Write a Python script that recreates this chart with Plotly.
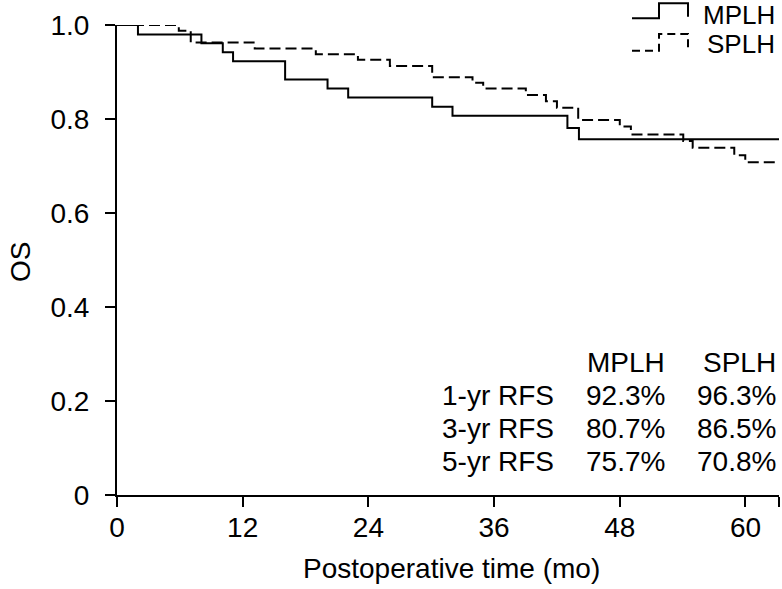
import plotly.graph_objects as go

# ---------------- data ----------------
mplh_time = [0, 2.0, 8.06, 10.1, 11.08, 16.05, 20.1, 22.07, 30.09, 32.03, 43.0, 44.1, 63.2]
mplh_surv = [1.0, 0.980, 0.961, 0.942, 0.923, 0.884, 0.865, 0.846, 0.826, 0.807, 0.781, 0.757, 0.757]

splh_time = [0, 5.9, 7.04, 13.15, 18.98, 23.0, 26.05, 30.09, 33.94, 34.96, 39.03, 40.95,
             42.0, 44.03, 48.0, 49.06, 54.06, 54.96, 58.93, 59.98, 63.2]
splh_surv = [1.0, 0.988, 0.963, 0.950, 0.938, 0.926, 0.913, 0.889, 0.877, 0.865, 0.851, 0.838,
             0.824, 0.798, 0.784, 0.767, 0.753, 0.739, 0.723, 0.708, 0.708]

x_ticks = [0, 12, 24, 36, 48, 60, 63.2]
x_ticktext = ["0", "12", "24", "36", "48", "60", ""]
y_ticks = [0, 0.2, 0.4, 0.6, 0.8, 1.0]
y_ticktext = ["0", "0.2", "0.4", "0.6", "0.8", "1.0"]

groups = ["MPLH", "SPLH"]
table_rows = ["1-yr RFS", "3-yr RFS", "5-yr RFS"]
table_mplh = ["92.3%", "80.7%", "75.7%"]
table_splh = ["96.3%", "86.5%", "70.8%"]

# ---------------- layout geometry ----------------
W, H = 782, 589
L, R, T, B = 117, 3, 25, 94
PW, PH = W - L - R, H - T - B
FONT = "Liberation Sans"
FS = 28


def fx(p):
    # page pixel x -> paper coordinate
    return (p - L) / PW


def fy(p):
    # page pixel y -> paper coordinate
    return (T + PH - p) / PH


fig = go.Figure()
fig.add_trace(go.Scatter(x=mplh_time, y=mplh_surv, mode="lines", line_shape="hv",
                         line=dict(color="black", width=2), name=groups[0],
                         cliponaxis=False, showlegend=False))
fig.add_trace(go.Scatter(x=splh_time, y=splh_surv, mode="lines", line_shape="hv",
                         line=dict(color="black", width=2, dash="11px,5px"), name=groups[1],
                         cliponaxis=False, showlegend=False))

shapes = []
# legend glyphs (step-style)
shapes.append(dict(type="path", xref="paper", yref="paper",
                   path=f"M {fx(632)},{fy(18.3)} L {fx(659)},{fy(18.3)} L {fx(659)},{fy(3.3)} "
                        f"L {fx(688)},{fy(3.3)} L {fx(688)},{fy(16.7)}",
                   line=dict(color="black", width=2)))
shapes.append(dict(type="path", xref="paper", yref="paper",
                   path=f"M {fx(632)},{fy(50.7)} L {fx(659)},{fy(50.7)} L {fx(659)},{fy(34)} "
                        f"L {fx(688)},{fy(34)} L {fx(688)},{fy(50)}",
                   line=dict(color="black", width=2, dash="8px,5px")))

annotations = []
for name, yy in zip(groups, [15, 44]):
    annotations.append(dict(text=name, xref="paper", yref="paper", x=fx(777), y=fy(yy),
                            xanchor="right", yanchor="middle", showarrow=False,
                            font=dict(family=FONT, size=26, color="black")))

# table
annotations.append(dict(text=groups[0], xref="paper", yref="paper", x=fx(667), y=fy(362),
                        xanchor="right", yanchor="middle", showarrow=False,
                        font=dict(family=FONT, size=FS, color="black")))
annotations.append(dict(text=groups[1], xref="paper", yref="paper", x=fx(778), y=fy(362),
                        xanchor="right", yanchor="middle", showarrow=False,
                        font=dict(family=FONT, size=FS, color="black")))
for i, (lab, a, b) in enumerate(zip(table_rows, table_mplh, table_splh)):
    yy = 395 + 33 * i
    for txt, xx in [(lab, 556), (a, 667), (b, 778)]:
        annotations.append(dict(text=txt, xref="paper", yref="paper", x=fx(xx), y=fy(yy),
                                xanchor="right", yanchor="middle", showarrow=False,
                                font=dict(family=FONT, size=FS, color="black")))

# axis titles
annotations.append(dict(text="Postoperative time (mo)", xref="paper", yref="paper",
                        x=fx(451), y=fy(568), xanchor="center", yanchor="middle",
                        showarrow=False, font=dict(family=FONT, size=FS, color="black")))
annotations.append(dict(text="OS", xref="paper", yref="paper", x=fx(20), y=fy(262),
                        xanchor="center", yanchor="middle", textangle=-90,
                        showarrow=False, font=dict(family=FONT, size=FS, color="black")))

fig.update_layout(
    width=W, height=H,
    margin=dict(l=L, r=R, t=T, b=B, pad=0),
    plot_bgcolor="white", paper_bgcolor="white",
    font=dict(family=FONT, size=FS, color="black"),
    shapes=shapes, annotations=annotations,
    showlegend=False,
)
fig.update_xaxes(range=[0, 63.2], tickmode="array", tickvals=x_ticks, ticktext=x_ticktext,
                 showline=True, linecolor="black", linewidth=2, ticks="outside",
                 ticklen=10, tickwidth=2, tickcolor="black", showgrid=False, zeroline=False,
                 ticklabelstandoff=-4, tickfont=dict(family=FONT, size=FS, color="black"))
fig.update_yaxes(range=[0, 1.0], tickmode="array", tickvals=y_ticks, ticktext=y_ticktext,
                 showline=True, linecolor="black", linewidth=2, ticks="outside",
                 ticklen=10, tickwidth=2, tickcolor="black", showgrid=False, zeroline=False,
                 ticklabelstandoff=10, tickfont=dict(family=FONT, size=FS, color="black"))

# remove the default page margin so the figure sits at the window's top-left corner
fig.write_html("out.html",
               config={"displayModeBar": False},
               post_script="document.body.style.margin='0px';document.body.style.overflow='hidden';")
